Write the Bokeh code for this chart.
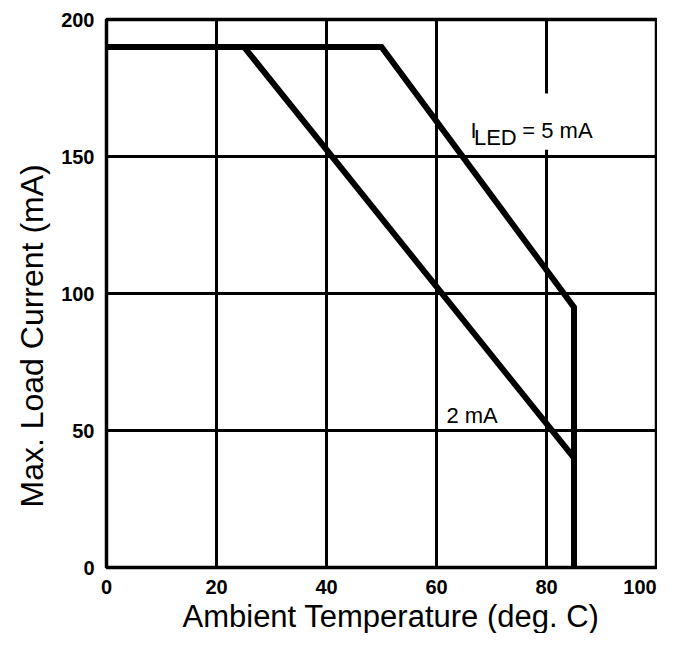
import math
from bokeh.plotting import figure
from bokeh.models import Range1d, FixedTicker, Label, BoxAnnotation, Title
from bokeh.embed import file_html
from bokeh.resources import INLINE

# Data
x_ticks = [0, 20, 40, 60, 80, 100]
y_ticks = [0, 50, 100, 150, 200]
temp_5ma = [0, 50, 85, 85]
load_5ma = [190, 190, 95, 0]
temp_2ma = [0, 25, 85, 85]
load_2ma = [190, 190, 40, 0]

FONT = "Liberation Sans"

p = figure(width=657, height=633, output_backend="svg", toolbar_location=None,
           x_range=Range1d(0, 100), y_range=Range1d(0, 200),
           min_border_left=106, min_border_right=1, min_border_top=19, min_border_bottom=66)
p.background_fill_color = "white"
p.border_fill_color = "white"
p.outline_line_color = "black"
p.outline_line_width = 3.5

for ax in (p.xaxis, p.yaxis):
    ax.axis_line_color = None
    ax.major_tick_line_color = None
    ax.minor_tick_line_color = None
    ax.major_tick_out = 0
    ax.major_tick_in = 0
    ax.minor_tick_out = 0
    ax.major_label_text_font = FONT
    ax.major_label_text_font_style = "bold"
    ax.major_label_text_font_size = "20px"
    ax.major_label_text_color = "black"

# the last x label is pulled slightly inwards so that it stays inside the page
last_x = x_ticks[-1]
x_label_pos = x_ticks[:-1] + [last_x - 3]
p.xaxis.ticker = FixedTicker(ticks=x_label_pos)
p.xaxis.major_label_overrides = {last_x - 3: str(last_x)}
p.yaxis.ticker = FixedTicker(ticks=y_ticks)
p.xaxis.major_label_standoff = 12
p.yaxis.major_label_standoff = 12

for g in (p.xgrid, p.ygrid):
    g.grid_line_color = "black"
    g.grid_line_width = 3
    g.grid_line_alpha = 1
p.xgrid.ticker = FixedTicker(ticks=x_ticks)
p.ygrid.ticker = FixedTicker(ticks=y_ticks)

p.line(temp_5ma, load_5ma, line_color="black", line_width=6, line_join="miter")
p.line(temp_2ma, load_2ma, line_color="black", line_width=6, line_join="miter")

# gap in the 80 gridline behind the label
p.add_layout(BoxAnnotation(left=78.5, right=81.5, bottom=152.5, top=173,
                           fill_color="white", fill_alpha=1, line_color=None))

def lab(x, y, text, size="22px"):
    p.add_layout(Label(x=x, y=y, text=text, text_font=FONT, text_font_size=size,
                       text_color="black", text_baseline="alphabetic"))

lab(66.2, 159.5, "I")
lab(66.8, 156.9, "LED")
lab(75.6, 159.5, "= 5 mA")
lab(61.8, 55.5, "2 mA")

# axis titles
xt = Title(text="Ambient Temperature (deg. C)", align="left", offset=76, standoff=0,
           vertical_align="bottom", text_line_height=0.8,
           text_font=FONT, text_font_size="31px", text_font_style="normal", text_color="black")
p.add_layout(xt, "below")
yt = Title(text="Max. Load Current (mA)", align="left", offset=60, standoff=17,
           vertical_align="bottom",
           text_font=FONT, text_font_size="32px", text_font_style="normal", text_color="black")
p.add_layout(yt, "left")

open("out.html", "w").write(file_html(p, INLINE))
